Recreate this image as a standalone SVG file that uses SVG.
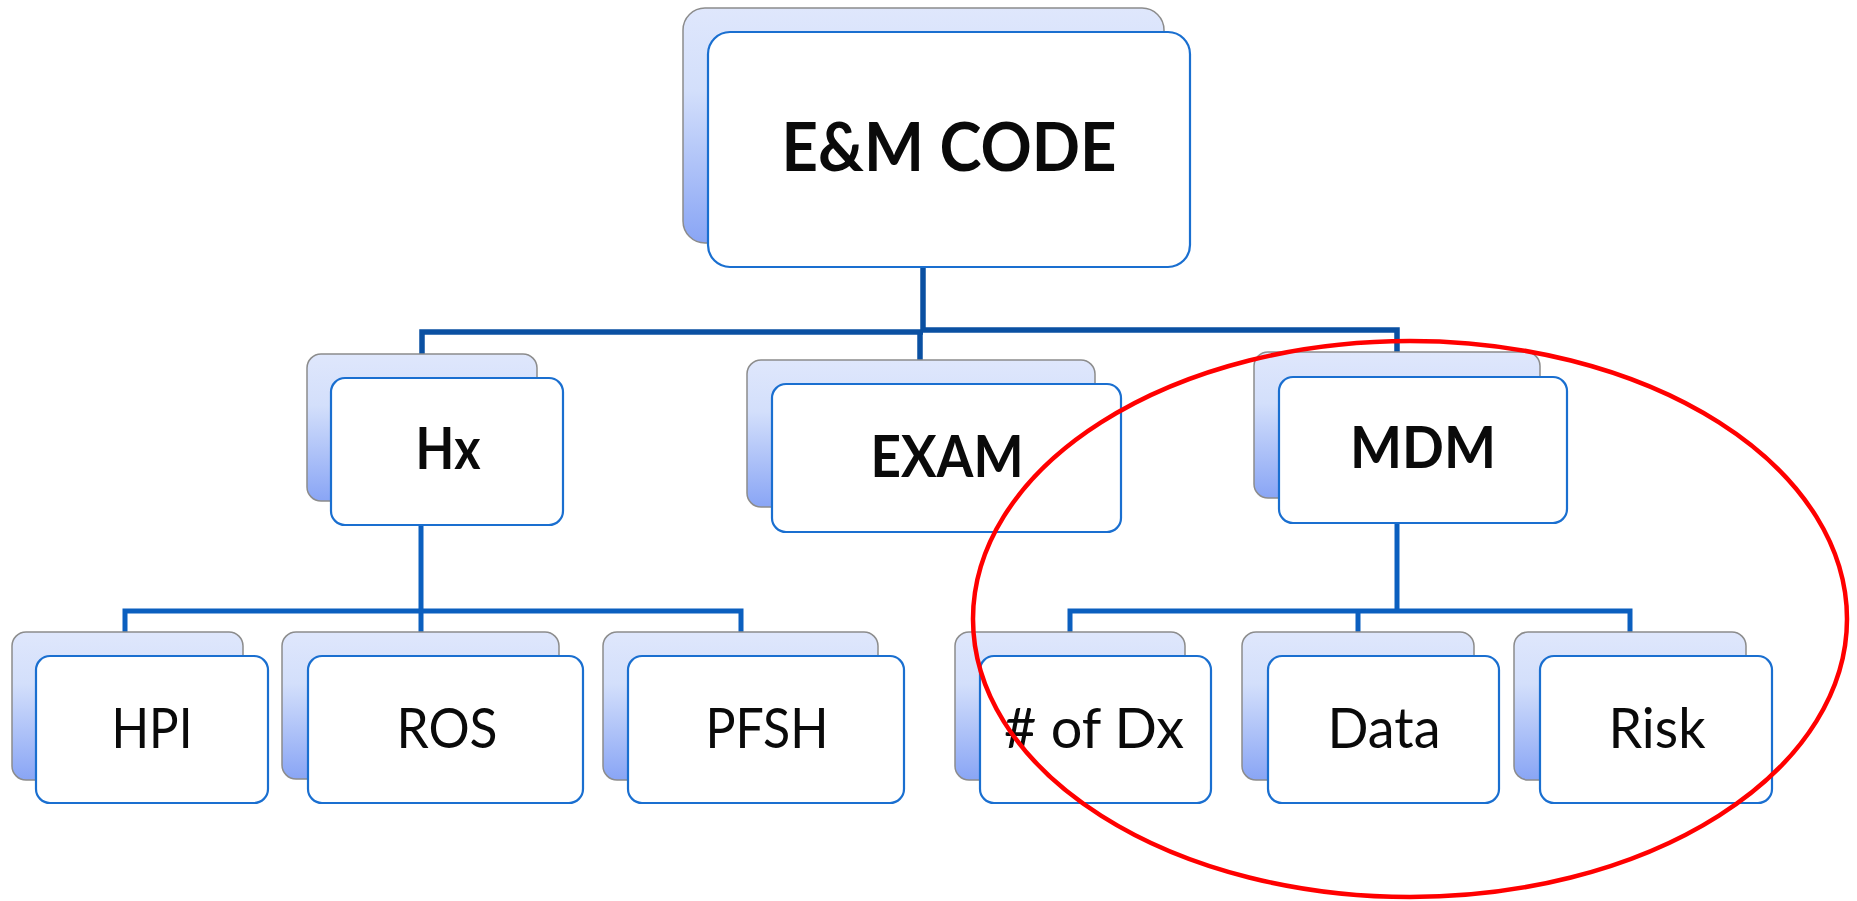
<svg xmlns="http://www.w3.org/2000/svg" width="1857" height="901" viewBox="0 0 1857 901">
<defs>
<linearGradient id="bg" x1="0" y1="0" x2="0" y2="1">
<stop offset="0" stop-color="#dfe7fc"/>
<stop offset="0.35" stop-color="#d3dffb"/>
<stop offset="1" stop-color="#89a5f5"/>
</linearGradient>
<style>
.back{fill:url(#bg);stroke:#8c8c8c;stroke-width:1.5}
.front{fill:#ffffff;stroke:#1a6fd0;stroke-width:2.2}
.b{font-family:Lato,"Open Sans","Liberation Sans",sans-serif;font-weight:bold;fill:#0a0a0a;text-anchor:middle}
.r{font-family:Lato,"Open Sans","Liberation Sans",sans-serif;font-weight:normal;fill:#0a0a0a;text-anchor:middle;font-size:56.5px}
.c1{fill:none;stroke:#0a50a2;stroke-width:5.5}
.c2{fill:none;stroke:#0b5fbf;stroke-width:5}
</style>
</defs>
<rect width="1857" height="901" fill="#ffffff"/>
<g id="connectors">
<path class="c1" d="M923 266 V331"/>
<path class="c1" d="M422 354 V332 H923 M923 330 H1397 V352"/>
<path class="c1" d="M920 333 V360"/>
<path class="c2" d="M421 525 V632"/>
<path class="c2" d="M125 632 V611 H741 V632"/>
<path class="c2" d="M1397 523 V611"/>
<path class="c2" d="M1070 632 V611 H1630 V632"/>
<path class="c2" d="M1358 611 V632"/>
</g>
<g id="node-em">
<rect class="back" x="683" y="8" width="481" height="235" rx="22"/>
<rect class="front" x="708" y="32" width="482" height="235" rx="22"/>
<text class="b" x="949" y="171" font-size="66" textLength="335" lengthAdjust="spacingAndGlyphs">E&amp;M CODE</text>
</g>
<g id="node-hx">
<rect class="back" x="307" y="354" width="230" height="147" rx="14"/>
<rect class="front" x="331" y="378" width="232" height="147" rx="14"/>
<text class="b" x="448" y="469" font-size="56.5" textLength="65" lengthAdjust="spacingAndGlyphs">Hx</text>
</g>
<g id="node-exam">
<rect class="back" x="747" y="360" width="348" height="147" rx="14"/>
<rect class="front" x="772" y="384" width="349" height="148" rx="14"/>
<text class="b" x="947" y="477" font-size="56.5" textLength="153" lengthAdjust="spacingAndGlyphs">EXAM</text>
</g>
<g id="node-mdm">
<rect class="back" x="1254" y="352" width="286" height="146" rx="14"/>
<rect class="front" x="1279" y="377" width="288" height="146" rx="14"/>
<text class="b" x="1423" y="468" font-size="56.5" textLength="146" lengthAdjust="spacingAndGlyphs">MDM</text>
</g>
<g id="node-hpi">
<rect class="back" x="12" y="632" width="231" height="148" rx="14"/>
<rect class="front" x="36" y="656" width="232" height="147" rx="14"/>
<text class="r" x="152" y="748" textLength="81" lengthAdjust="spacingAndGlyphs">HPI</text>
</g>
<g id="node-ros">
<rect class="back" x="282" y="632" width="277" height="147" rx="14"/>
<rect class="front" x="308" y="656" width="275" height="147" rx="14"/>
<text class="r" x="447" y="748" textLength="101" lengthAdjust="spacingAndGlyphs">ROS</text>
</g>
<g id="node-pfsh">
<rect class="back" x="603" y="632" width="275" height="148" rx="14"/>
<rect class="front" x="628" y="656" width="276" height="147" rx="14"/>
<text class="r" x="767" y="748" textLength="123" lengthAdjust="spacingAndGlyphs">PFSH</text>
</g>
<g id="node-dx">
<rect class="back" x="955" y="632" width="230" height="148" rx="14"/>
<rect class="front" x="980" y="656" width="231" height="147" rx="14"/>
<text class="r" x="1094" y="748" textLength="180" lengthAdjust="spacingAndGlyphs"># of Dx</text>
</g>
<g id="node-data">
<rect class="back" x="1242" y="632" width="232" height="148" rx="14"/>
<rect class="front" x="1268" y="656" width="231" height="147" rx="14"/>
<text class="r" x="1384" y="748" textLength="113" lengthAdjust="spacingAndGlyphs">Data</text>
</g>
<g id="node-risk">
<rect class="back" x="1514" y="632" width="232" height="148" rx="14"/>
<rect class="front" x="1540" y="656" width="232" height="147" rx="14"/>
<text class="r" x="1657" y="748" textLength="97" lengthAdjust="spacingAndGlyphs">Risk</text>
</g>
<ellipse id="highlight" cx="1410" cy="619" rx="437" ry="278" fill="none" stroke="#ff0000" stroke-width="4.5"/>
</svg>
